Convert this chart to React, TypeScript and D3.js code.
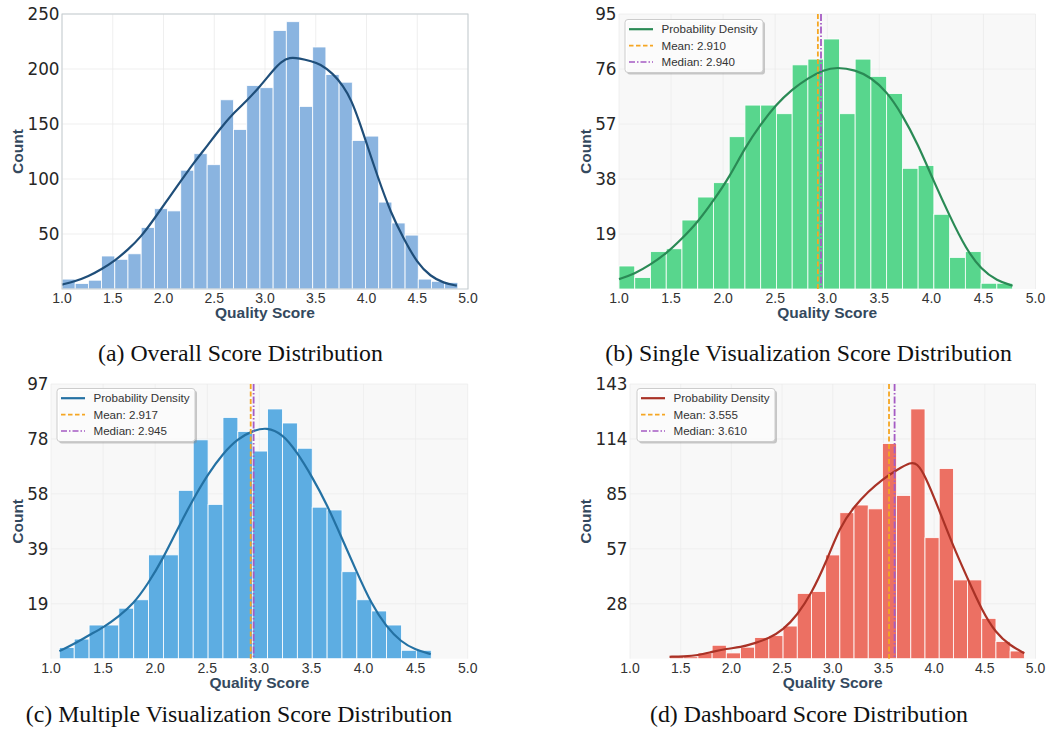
import React from "react";
import * as d3 from "d3";

// ---------- shared ----------
const xTickValues = [1.0, 1.5, 2.0, 2.5, 3.0, 3.5, 4.0, 4.5, 5.0];
const xAxisLabel = "Quality Score";
const yAxisLabel = "Count";

// ---------- (a) Overall ----------
const captionA = "(a) Overall Score Distribution";
const binStartA = 1.0;
const binWidthA = 0.13;
const countsA = [9, 5, 8, 30, 27, 32, 56, 73, 71, 108, 123, 113, 172, 145, 185, 183, 235, 243, 166, 220, 195, 188, 135, 139, 79, 60, 49, 9, 7, 6];
const kdeXA = [1.0, 1.13, 1.26, 1.39, 1.52, 1.65, 1.78, 1.91, 2.04, 2.17, 2.3, 2.43, 2.56, 2.69, 2.82, 2.95, 3.08, 3.16, 3.24, 3.34, 3.46, 3.54, 3.67, 3.77, 3.85, 3.93, 4.0, 4.11, 4.24, 4.37, 4.5, 4.63, 4.76, 4.89];
const kdeYA = [4, 7, 11.5, 18, 25.7, 35.7, 47.5, 64, 81, 98, 115, 130, 146, 160, 171, 184, 199, 206.7, 210.7, 209.7, 207, 204.6, 196, 184.6, 172, 152, 132.6, 102, 69, 45, 23.6, 11.5, 5.4, 3];
const yTicksA = [50, 100, 150, 200, 250];
const yMaxA = 250;

// ---------- (b) Single ----------
const captionB = "(b) Single Visualization Score Distribution";
const binStartB = 1.0;
const binWidthB = 0.1512;
const countsB = [8, 4, 13, 14, 24, 32, 37, 53, 64, 64, 61, 78, 80, 87, 61, 80, 74, 68, 42, 43, 26, 11, 13, 2, 2];
const kdeXB = [1.0, 1.15, 1.3, 1.455, 1.606, 1.757, 1.908, 2.06, 2.21, 2.36, 2.51, 2.66, 2.815, 2.966, 3.09, 3.27, 3.42, 3.57, 3.72, 3.87, 4.02, 4.18, 4.33, 4.48, 4.63, 4.78];
const kdeYB = [3.45, 5.3, 8.4, 12.4, 17.6, 23.3, 30.8, 38.9, 49.2, 57.3, 64.2, 69.4, 73.4, 76.3, 77.2, 76.3, 73.6, 68.8, 60.7, 50.4, 37.7, 25.1, 14.1, 6.7, 2.9, 1.15];
const yMaxB = 95.7;
const meanB = 2.91;
const medianB = 2.94;

// ---------- (c) Multiple ----------
const captionC = "(c) Multiple Visualization Score Distribution";
const binStartC = 1.08;
const binWidthC = 0.1428;
const countsC = [4, 7, 12, 12, 18, 21, 37, 37, 60, 78, 55, 86, 81, 74, 89, 84, 75, 54, 53, 31, 21, 17, 12, 3, 3];
const kdeXC = [1.08, 1.22, 1.365, 1.51, 1.65, 1.79, 1.93, 2.08, 2.22, 2.36, 2.51, 2.65, 2.79, 2.94, 3.07, 3.22, 3.36, 3.505, 3.65, 3.79, 3.93, 4.075, 4.22, 4.36, 4.5, 4.645];
const kdeYC = [2.7, 5.2, 8.4, 11.3, 15.1, 19.5, 26.6, 36, 46.6, 56.6, 66, 73.1, 78.4, 81.3, 82.5, 80.2, 73.7, 64.9, 54.9, 43.1, 31.3, 19.5, 11.3, 6, 3.1, 1.65];
const yMaxC = 97.9;
const meanC = 2.917;
const medianC = 2.945;

// ---------- (d) Dashboard ----------
const captionD = "(d) Dashboard Score Distribution";
const binStartD = 1.39;
const binWidthD = 0.14;
const countsD = [1, 1, 3, 7, 3, 6, 11, 12, 17, 34, 35, 54, 76, 80, 78, 112, 85, 130, 63, 99, 41, 41, 21, 9, 4];
const kdeXD = [1.39, 1.53, 1.67, 1.81, 1.95, 2.09, 2.23, 2.37, 2.51, 2.65, 2.79, 2.93, 3.07, 3.21, 3.35, 3.49, 3.63, 3.77, 3.83, 3.91, 4.05, 4.19, 4.33, 4.47, 4.61, 4.75, 4.89];
const kdeYD = [1, 1.2, 1.7, 3.6, 5.2, 5.9, 8, 10.6, 14.9, 22.7, 34, 49.6, 68.7, 79.1, 87, 93.4, 98.2, 102.4, 101.7, 95.6, 77.4, 58.3, 41.8, 25.3, 13.2, 6.9, 2.8];
const yMaxD = 143;
const meanD = 3.555;
const medianD = 3.61;

const SANS = "'Liberation Sans', Arial, Helvetica, sans-serif";
const TICKFONT = "'DejaVu Sans', 'Liberation Sans', sans-serif";
const SERIF = "'Liberation Serif', 'Times New Roman', serif";
const LABEL_COLOR = "#34495e";

type PanelProps = {
  box: { x0: number; x1: number; y0: number; y1: number };
  counts: number[];
  binStart: number;
  binWidth: number;
  kdeX: number[];
  kdeY: number[];
  yMax: number;
  yTicks: number[];
  barColor: string;
  lineColor: string;
  framed: boolean;
  labelX: number;
  mean?: number;
  median?: number;
  legendDx?: number;
  legendDy?: number;
};

function Panel(p: PanelProps) {
  const { box } = p;
  const x = d3.scaleLinear().domain([1, 5]).range([box.x0, box.x1]);
  const y = d3.scaleLinear().domain([0, p.yMax]).range([box.y1, box.y0]);
  const line = d3
    .line<number>()
    .x((_, i) => x(p.kdeX[i]))
    .y((d) => y(d))
    .curve(d3.curveBasis);
  const bg = p.framed ? "#ffffff" : "#f8f8f8";
  const grid = p.framed ? "#ebebeb" : "#ececec";
  const cx = (box.x0 + box.x1) / 2;
  const cy = (box.y0 + box.y1) / 2;
  const hasLegend = p.mean !== undefined;
  const lx = box.x0 + (p.legendDx ?? 6);
  const ly = box.y0 + (p.legendDy ?? 5);
  const legendItems = hasLegend
    ? [
        { label: "Probability Density", color: p.lineColor, dash: "", w: 2.2 },
        { label: `Mean: ${p.mean!.toFixed(3)}`, color: "#f5a623", dash: "4.5,2.5", w: 1.6 },
        { label: `Median: ${p.median!.toFixed(3)}`, color: "#a55bc4", dash: "6,2,1.5,2", w: 1.6 },
      ]
    : [];
  return (
    <g>
      <rect x={box.x0} y={box.y0} width={box.x1 - box.x0} height={box.y1 - box.y0} fill={bg} />
      {xTickValues.map((t) => (
        <line key={"gx" + t} x1={x(t)} x2={x(t)} y1={box.y0} y2={box.y1} stroke={grid} strokeWidth={0.8} />
      ))}
      {p.yTicks.map((t) => (
        <line key={"gy" + t} x1={box.x0} x2={box.x1} y1={y(t)} y2={y(t)} stroke={grid} strokeWidth={0.8} />
      ))}
      {p.counts.map((c, i) => {
        const a = p.binStart + i * p.binWidth;
        return (
          <rect
            key={"b" + i}
            x={x(a)}
            y={y(c)}
            width={x(a + p.binWidth) - x(a)}
            height={y(0) - y(c)}
            fill={p.barColor}
            stroke="#ffffff"
            strokeWidth={0.8}
          />
        );
      })}
      <path d={line(p.kdeY) || ""} fill="none" stroke={p.lineColor} strokeWidth={2.2} />
      {hasLegend && (
        <g>
          <line x1={x(p.mean!)} x2={x(p.mean!)} y1={box.y0} y2={box.y1} stroke="#f5a623" strokeWidth={1.8} strokeDasharray="5,2.5" />
          <line x1={x(p.median!)} x2={x(p.median!)} y1={box.y0} y2={box.y1} stroke="#a55bc4" strokeWidth={1.8} strokeDasharray="7,2,1.5,2" />
        </g>
      )}
      {p.framed && (
        <rect x={box.x0} y={box.y0} width={box.x1 - box.x0} height={box.y1 - box.y0} fill="none" stroke="#c5cdd1" strokeWidth={1} />
      )}
      {xTickValues.map((t) => (
        <text key={"tx" + t} x={x(t)} y={box.y1 + 13.8} textAnchor="middle" fontFamily={SANS} fontSize={14} fill="#333">
          {t.toFixed(1)}
        </text>
      ))}
      {p.yTicks.map((t) => (
        <text key={"ty" + t} x={box.x0 - 2.5} y={y(t)} dy="0.36em" textAnchor="end" fontFamily={TICKFONT} fontSize={16.8} fill="#262626">
          {Math.floor(t)}
        </text>
      ))}
      <text x={cx} y={box.y1 + 29} textAnchor="middle" fontFamily={SANS} fontWeight="bold" fontSize={15.5} fill={LABEL_COLOR}>
        {xAxisLabel}
      </text>
      <text transform={`translate(${p.labelX},${cy}) rotate(-90)`} textAnchor="middle" fontFamily={SANS} fontWeight="bold" fontSize={15.5} fill={LABEL_COLOR}>
        {yAxisLabel}
      </text>
      {hasLegend && (
        <g transform={`translate(${lx},${ly})`}>
          <rect x={2} y={2} width={138} height={53} rx={3} fill="#8a8a8a" opacity={0.45} />
          <rect x={0} y={0} width={138} height={53} rx={3} fill="#ffffff" fillOpacity={0.92} stroke="#cccccc" strokeWidth={1} />
          {legendItems.map((it, i) => (
            <g key={"lg" + i} transform={`translate(0,${9.7 + i * 16.4})`}>
              <line x1={4} x2={28} y1={0} y2={0} stroke={it.color} strokeWidth={it.w} strokeDasharray={it.dash} />
              <text x={36.5} y={0} dy="0.35em" fontFamily={SANS} fontSize={11.6} fill="#333">
                {it.label}
              </text>
            </g>
          ))}
        </g>
      )}
    </g>
  );
}

const fifths = (m: number) => d3.range(1, 6).map((k) => (k * m) / 5);

export default function App() {
  return (
    <svg
      width={1050}
      height={740}
      style={{ position: "absolute", left: 0, top: 0, background: "#ffffff" }}
    >
      <rect x={0} y={0} width={1050} height={740} fill="#ffffff" />
      <Panel
        box={{ x0: 62, x1: 468, y0: 14, y1: 289 }}
        counts={countsA}
        binStart={binStartA}
        binWidth={binWidthA}
        kdeX={kdeXA}
        kdeY={kdeYA}
        yMax={yMaxA}
        yTicks={yTicksA}
        barColor="#8ab4e0"
        lineColor="#1f4e79"
        framed={true}
        labelX={22.5}
      />
      <Panel
        box={{ x0: 619, x1: 1035.5, y0: 14, y1: 289 }}
        counts={countsB}
        binStart={binStartB}
        binWidth={binWidthB}
        kdeX={kdeXB}
        kdeY={kdeYB}
        yMax={yMaxB}
        yTicks={fifths(yMaxB)}
        barColor="#58d68d"
        lineColor="#2a8a55"
        framed={false}
        labelX={590.5}
        mean={meanB}
        median={medianB}
        legendDx={6}
        legendDy={5.5}
      />
      <Panel
        box={{ x0: 51, x1: 467.7, y0: 384, y1: 658.7 }}
        counts={countsC}
        binStart={binStartC}
        binWidth={binWidthC}
        kdeX={kdeXC}
        kdeY={kdeYC}
        yMax={yMaxC}
        yTicks={fifths(yMaxC)}
        barColor="#5dade2"
        lineColor="#2471a3"
        framed={false}
        labelX={22.5}
        mean={meanC}
        median={medianC}
        legendDx={6}
        legendDy={4.5}
      />
      <Panel
        box={{ x0: 630, x1: 1035.5, y0: 384, y1: 658.7 }}
        counts={countsD}
        binStart={binStartD}
        binWidth={binWidthD}
        kdeX={kdeXD}
        kdeY={kdeYD}
        yMax={yMaxD}
        yTicks={fifths(yMaxD)}
        barColor="#ec7063"
        lineColor="#a93226"
        framed={false}
        labelX={590.5}
        mean={meanD}
        median={medianD}
        legendDx={7}
        legendDy={4.5}
      />
      <text x={240.5} y={361} textAnchor="middle" fontFamily={SERIF} fontSize={23.8} fill="#111">{captionA}</text>
      <text x={808.5} y={361} textAnchor="middle" fontFamily={SERIF} fontSize={23.8} fill="#111">{captionB}</text>
      <text x={239} y={722} textAnchor="middle" fontFamily={SERIF} fontSize={23.8} fill="#111">{captionC}</text>
      <text x={809} y={722} textAnchor="middle" fontFamily={SERIF} fontSize={23.8} fill="#111">{captionD}</text>
    </svg>
  );
}
